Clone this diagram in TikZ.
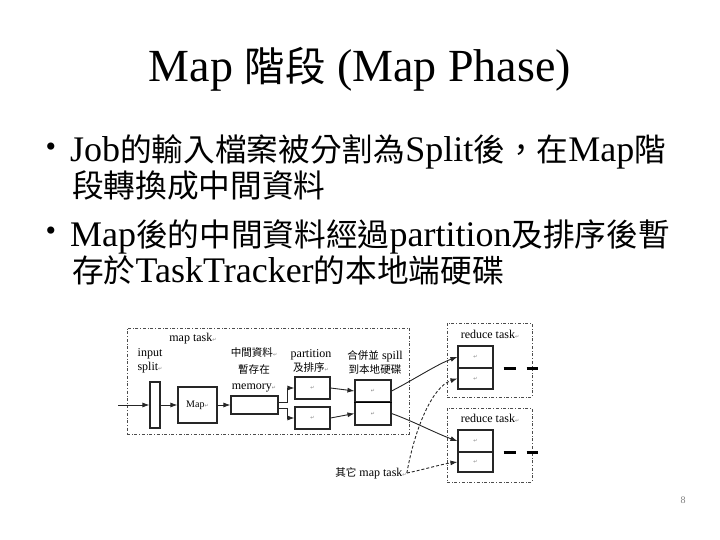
\documentclass[tikz,border=0pt]{standalone}
\usepackage{fontspec}
\setmainfont{Liberation Serif}
\newfontfamily\cjk[Scale=0.88]{Noto Sans CJK TC}
\newfontfamily\symf{DejaVu Sans}
\usetikzlibrary{arrows.meta,positioning}
\newcommand{\zh}[1]{{\cjk #1}}
\newcommand{\pmk}{{\symf\fontsize{5}{5}\selectfont\textcolor{gray}{↵}}}
\tikzset{
  taskframe/.style={draw=black!70, dash dot, line width=0.7pt},
  box/.style={draw=black!85, line width=1.1pt, inner sep=0pt},
  lbl/.style={font=\fontsize{12}{14}\selectfont, align=center, inner sep=0pt},
  arr/.style={-{Latex[length=7pt,width=5pt]}, line width=0.9pt, black!85},
  darr/.style={arr, densely dashed},
  bar/.style={line width=3pt},
  bul/.style={font=\fontsize{36}{36}\selectfont, anchor=base west, inner sep=0pt},
}

\begin{document}
\begin{tikzpicture}[x=1pt, y=-1pt]
  \useasboundingbox (0,0) rectangle (720,540);
  % title and bullets
  \node[font=\fontsize{46}{46}\selectfont, anchor=base] (title) at (360,82) {Map \zh{階段} (Map Phase)};
  \node[font=\fontsize{30}{30}\selectfont] (dot1) at (51,150) {•};
  \node[font=\fontsize{30}{30}\selectfont] (dot2) at (51,234) {•};
  \node[bul] (b1) at (70,162) {Job\zh{的輸入檔案被分割為}Split\zh{後，在}Map\zh{階}};
  \node[bul] (b1b) at (72,197) {\zh{段轉換成中間資料}};
  \node[bul] (b2) at (70,246) {Map\zh{後的中間資料經過}partition\zh{及排序後暫}};
  \node[bul] (b2b) at (72,282) {\zh{存於}TaskTracker\zh{的本地端硬碟}};

  % frames
  \node[taskframe, minimum width=282, minimum height=106] (maptask) at (268,381) {};
  \node[taskframe, minimum width=85, minimum height=74] (red1) at (489.5,360) {};
  \node[taskframe, minimum width=85, minimum height=74] (red2) at (489.5,445) {};

  % map side
  \node[lbl] (maplbl) at (193,339) {map task\pmk};
  \node[lbl] (splitlbl) at (150,361) {input\\split\pmk};
  \node[box, minimum width=10, minimum height=46] (split) at (155,405) {};
  \node[box, minimum width=39, minimum height=36] (map) at (197.5,405) {Map\pmk};
  \node[lbl, font=\fontsize{12}{16.5}\selectfont] (memlbl) at (254,370) {\zh{中間資料}\pmk\\\zh{暫存在}\\memory\pmk};
  \node[box, minimum width=47, minimum height=18] (mem) at (254.5,405) {};
  \node[lbl] (partlbl) at (311,361) {partition\\\zh{及排序}\pmk};
  \node[box, minimum width=35, minimum height=22] (part1) at (312.5,388) {\pmk};
  \node[box, minimum width=35, minimum height=22] (part2) at (312.5,418) {\pmk};
  \node[lbl] (spilllbl) at (375,362) {\zh{合併並} spill\\\zh{到本地硬碟}};
  \node[box, minimum width=36, minimum height=22] (spill1) at (373,391) {\pmk};
  \node[box, minimum width=36, minimum height=23] (spill2) at (373,413.5) {\pmk};
  \draw[line width=1.8pt] (spill1.south west) -- (spill1.south east);

  % reduce side
  \node[lbl] (redlbl1) at (490,334) {reduce task\pmk};
  \node[lbl] (redlbl2) at (490,418) {reduce task\pmk};
  \node[box, minimum width=35, minimum height=22] (r1a) at (475.5,357) {\pmk};
  \node[box, minimum width=35, minimum height=21] (r1b) at (475.5,378.5) {\pmk};
  \node[box, minimum width=35, minimum height=22] (r2a) at (475.5,441) {\pmk};
  \node[box, minimum width=35, minimum height=20] (r2b) at (475.5,462) {\pmk};
  \draw[bar] ([xshift=10pt]r1a.south east) -- ++(12,0);
  \draw[bar] ([xshift=33pt]r1a.south east) -- ++(11,0);
  \draw[bar] ([xshift=10pt]r2a.south east) -- ++(12,0);
  \draw[bar] ([xshift=33pt]r2a.south east) -- ++(11,0);
  \node[lbl] (other) at (371,473) {\zh{其它} map task\pmk};

  % connectors
  \coordinate (src) at (118,405);
  \draw[arr] (src) -- (split);
  \draw[arr] (split) -- (map);
  \draw[arr] (map) -- (mem);
  \draw[arr] ([yshift=3pt]mem.east) -- ++(9,0) |- (part1.west);
  \draw[arr] ([yshift=-3pt]mem.east) -- ++(9,0) |- (part2.west);
  \draw[arr] (part1.east) -- (spill1.west);
  \draw[arr] (part2.east) -- (spill2.west);
  \draw[arr] (spill1.east) .. controls +(20,-10) and +(-20,7) .. (r1a.west);
  \draw[arr] (spill2.east) .. controls +(20,7) and +(-20,-7) .. (r2a.west);
  \draw[darr] (other.east) .. controls +(8,-45) and +(-25,8) .. (r1b.west);
  \draw[darr] (other.east) .. controls +(15,-3) and +(-15,2) .. (r2b.west);

  \node[font=\fontsize{10}{10}\selectfont, text=gray] (pgnum) at (683,500) {8};
\end{tikzpicture}
\end{document}
